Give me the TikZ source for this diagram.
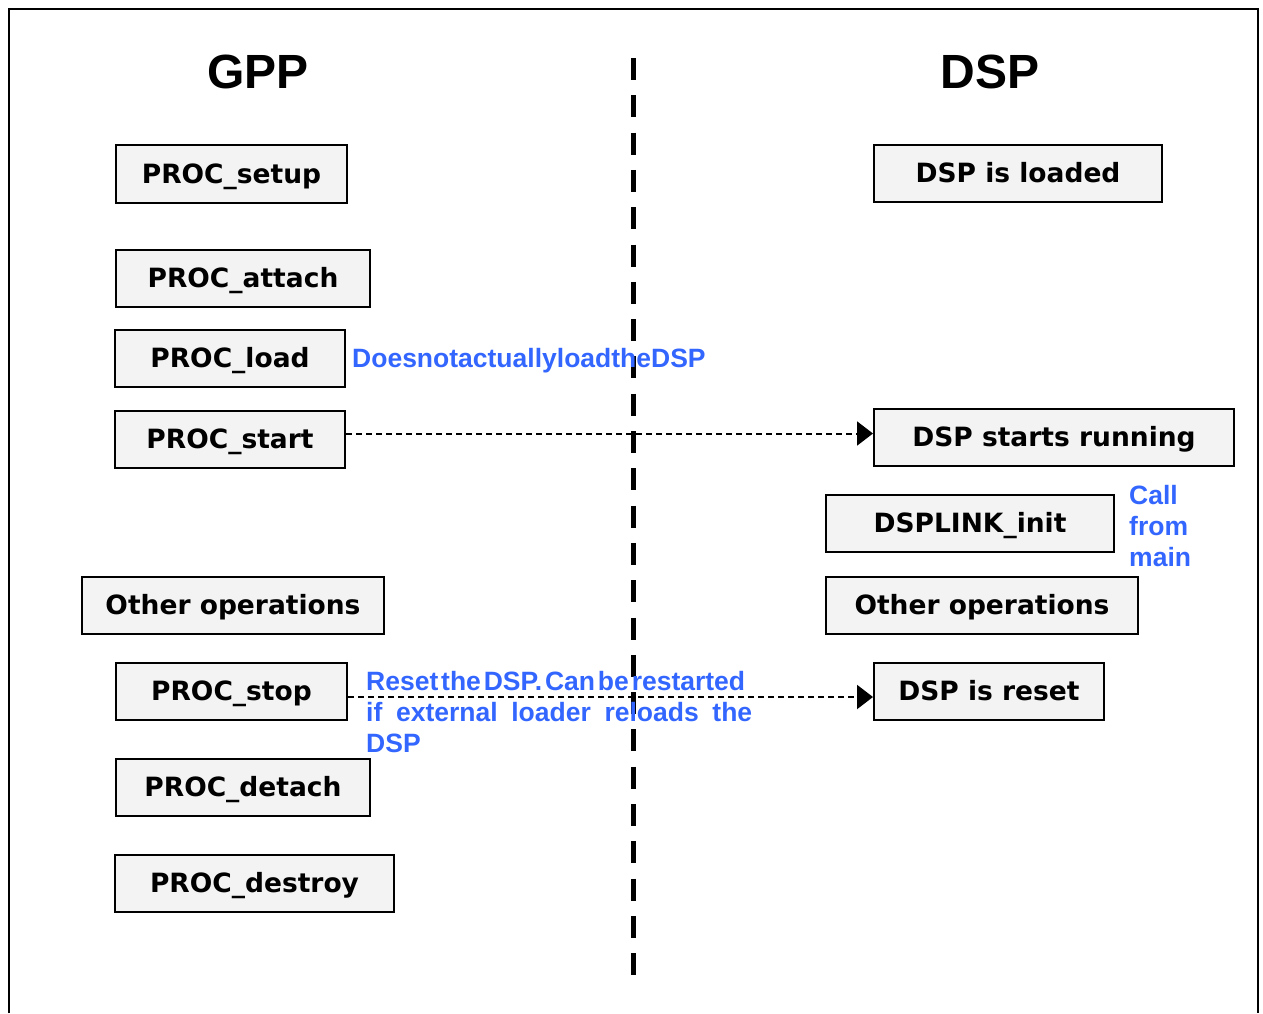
\documentclass[tikz,border=0pt]{standalone}
\usepackage{fontspec}
\setmainfont{DejaVu Sans}
\newfontfamily\arialfont{Liberation Sans}
\newfontfamily\verdfont{DejaVu Sans}
\usetikzlibrary{arrows.meta}
\definecolor{boxgray}{RGB}{243,243,243}
\definecolor{noteblue}{RGB}{51,102,255}
\begin{document}
\begin{tikzpicture}[x=1pt,y=-1pt,
  stepbox/.style={draw=black, line width=2pt, fill=boxgray, inner sep=0pt,
    text height=19pt, text depth=1pt,
    font=\verdfont\bfseries\fontsize{26.5}{30}\selectfont},
  title/.style={font=\arialfont\bfseries\fontsize{48}{56}\selectfont, inner sep=0pt},
  note/.style={font=\arialfont\bfseries\fontsize{26.5}{31}\selectfont, text=noteblue, inner sep=0pt, align=left},
  msg/.style={draw=black, line width=2pt, dash pattern=on 6pt off 4pt, -{Triangle[length=16pt,width=24pt]}}
]
\useasboundingbox (0,0) rectangle (1263,1013);
% frame
\draw[line width=2pt] (9,1013) -- (9,9) -- (1258,9) -- (1258,1013);
% titles
\node[title] (gpp) at (258,72) {GPP};
\node[title] (dsp) at (990,72) {DSP};
% separator
\coordinate (septop) at (633,58);
\coordinate (sepbot) at (633,975);
\draw[line width=5pt, dash pattern=on 22pt off 15.3pt] (septop) -- (sepbot);
% GPP boxes
\node[stepbox, minimum width=231pt, minimum height=58pt] (setup) at (231.5,174) {PROC\_setup};
\node[stepbox, minimum width=254pt, minimum height=57pt] (attach) at (243,278.5) {PROC\_attach};
\node[stepbox, minimum width=230pt, minimum height=57pt] (load) at (230,358.5) {PROC\_load};
\node[stepbox, minimum width=230pt, minimum height=57pt] (start) at (230,439.5) {PROC\_start};
\node[stepbox, minimum width=302pt, minimum height=57pt] (otherL) at (233,605.5) {Other operations};
\node[stepbox, minimum width=231pt, minimum height=57pt] (stop) at (231.5,691.5) {PROC\_stop};
\node[stepbox, minimum width=254pt, minimum height=57pt] (detach) at (243,787.5) {PROC\_detach};
\node[stepbox, minimum width=279pt, minimum height=57pt] (destroy) at (254.5,883.5) {PROC\_destroy};
% DSP boxes
\node[stepbox, minimum width=288pt, minimum height=57pt] (loaded) at (1018,173.5) {DSP is loaded};
\node[stepbox, minimum width=360pt, minimum height=57pt] (running) at (1054,437.5) {DSP starts running};
\node[stepbox, minimum width=288pt, minimum height=57pt] (init) at (970,523.5) {DSPLINK\_init};
\node[stepbox, minimum width=312pt, minimum height=57pt] (otherR) at (982,605.5) {Other operations};
\node[stepbox, minimum width=230pt, minimum height=57pt] (reset) at (989,691.5) {DSP is reset};
% notes
\node[note, anchor=west] (noteload) at (352,361) {DoesnotactuallyloadtheDSP};
\node[note, anchor=north west] (notemain) at (1129,485) {Call\\from\\main};
\node[note, anchor=north west] (notereset) at (366,671) {\makebox[379pt][s]{Reset\hfil the\hfil DSP.\hfil Can\hfil be\hfil restarted}\\\makebox[386pt][s]{if external loader reloads the}\\DSP};
% messages
\draw[msg] ([yshift=6pt]start.east) -- ([yshift=4pt]running.west);
\draw[msg] ([yshift=-5.5pt]stop.east) -- ([yshift=-5.5pt]reset.west);
\end{tikzpicture}
\end{document}
